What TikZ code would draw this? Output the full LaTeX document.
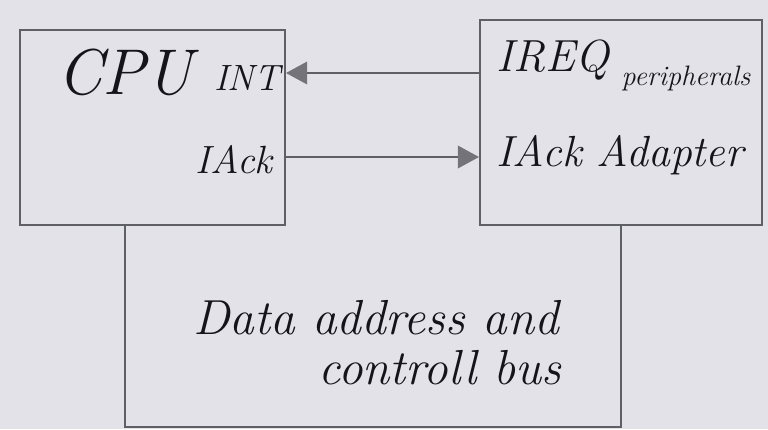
\documentclass[tikz,border=0pt]{standalone}
\usetikzlibrary{arrows.meta}
\definecolor{paper}{RGB}{226,226,232}
\definecolor{pencil}{RGB}{95,95,102}
\definecolor{ink}{RGB}{20,20,25}
\definecolor{headgray}{RGB}{115,115,121}
\tikzset{
  blockbox/.style={draw=pencil, line width=1.4pt, rectangle, inner sep=0pt},
  wire/.style={draw=pencil, line width=1.4pt},
  arr/.style={wire, -{Triangle[length=15pt,width=16pt,fill=headgray,color=headgray]}},
  lbl/.style={text=ink, inner sep=0pt, font=\itshape},
}
\begin{document}
\begin{tikzpicture}[x=0.025cm,y=-0.025cm]
\fill[paper] (0,0) rectangle (768,429);
\useasboundingbox (0,0) rectangle (768,429);
% blocks
\node[blockbox, minimum width=6.625cm, minimum height=4.875cm] (cpu) at (152.5,127.5) {};
\node[blockbox, minimum width=7.05cm, minimum height=5.125cm] (per) at (621,122.5) {};
% bus box (open at top)
\coordinate (bl) at (125,427);
\coordinate (br) at (621,427);
\draw[wire] (cpu.south -| bl) -- (bl) -- (br) -- (per.south -| br);
% connectors
\coordinate (yint) at (0,73);
\coordinate (yack) at (0,157);
\draw[arr] (per.west |- yint) -- (cpu.east |- yint);
\draw[arr] (cpu.east |- yack) -- (per.west |- yack);
% labels
\node[lbl, font=\fontsize{46}{50}\selectfont\itshape] (tcpu) at (125,72) {CPU};
\node[lbl, font=\fontsize{26}{30}\selectfont\itshape] (tint) at (247,78) {INT};
\node[lbl, font=\fontsize{28}{32}\selectfont\itshape] (tack) at (234,160) {IAck};
\node[lbl, font=\fontsize{32}{36}\selectfont\itshape] (tireq) at (553,60) {IREQ};
\node[lbl, font=\fontsize{20}{24}\selectfont\itshape] (tper) at (686,78) {peripherals};
\node[lbl, font=\fontsize{31}{34}\selectfont\itshape] (tadp) at (620,155) {IAck Adapter};
\node[lbl, font=\fontsize{35}{38}\selectfont\itshape] (tbus1) at (376,318) {Data address and};
\node[lbl, font=\fontsize{35}{38}\selectfont\itshape] (tbus2) at (440,368) {controll bus};
\end{tikzpicture}
\end{document}
